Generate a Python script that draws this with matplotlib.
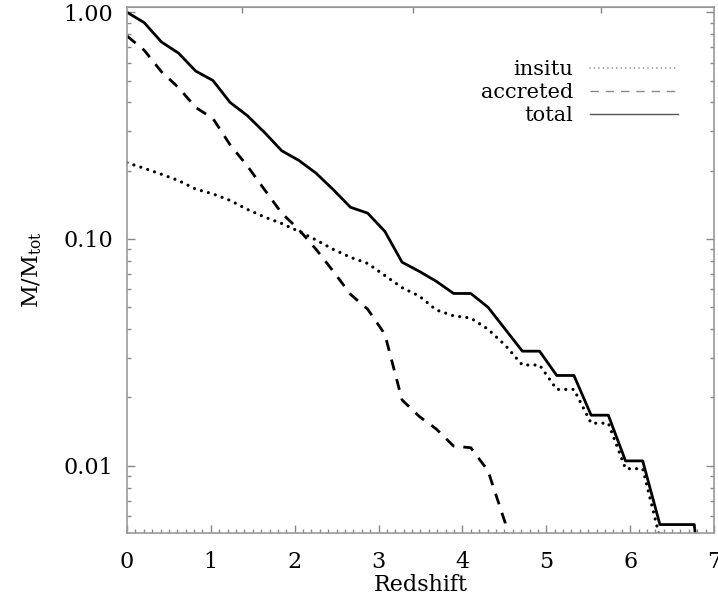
import numpy as np
import matplotlib.pyplot as plt
from matplotlib.lines import Line2D
from matplotlib.ticker import MultipleLocator, LogLocator, NullFormatter, FixedFormatter

plt.rcParams['font.family'] = 'DejaVu Serif'
plt.rcParams['mathtext.fontset'] = 'dejavuserif'
plt.rcParams['lines.scale_dashes'] = False

# Redshift grid and mass fractions
z = [0.0, 0.205, 0.41, 0.615, 0.82, 1.025, 1.23, 1.435, 1.64, 1.845,
     2.05, 2.255, 2.46, 2.665, 2.87, 3.075, 3.28, 3.485, 3.69, 3.895,
     4.10, 4.305, 4.51, 4.715, 4.92, 5.125, 5.33, 5.535, 5.74, 5.945,
     6.15, 6.355, 6.56, 6.765, 6.97]

total = [1.00, 0.90, 0.74, 0.66, 0.55, 0.50, 0.40, 0.35, 0.295, 0.245,
         0.222, 0.195, 0.165, 0.138, 0.13, 0.108, 0.079, 0.072, 0.065, 0.0575,
         0.0575, 0.050, 0.040, 0.032, 0.032, 0.025, 0.025, 0.0167, 0.0167, 0.0105,
         0.0105, 0.0055, 0.0055, 0.0055, 0.001]

accreted = [0.786, 0.68, 0.547, 0.465, 0.38, 0.34, 0.26, 0.21, 0.165, 0.13,
            0.11, 0.09, 0.072, 0.057, 0.049, 0.038, 0.0195, 0.0165, 0.0145, 0.0122,
            0.012, 0.0095, 0.0056, 0.001]

insitu = [0.217, 0.205, 0.193, 0.181, 0.166, 0.158, 0.148, 0.135, 0.125, 0.117,
          0.108, 0.099, 0.09, 0.083, 0.078, 0.069, 0.061, 0.056, 0.0486, 0.0458,
          0.0448, 0.040, 0.034, 0.0278, 0.0278, 0.0217, 0.0217, 0.0154, 0.0154, 0.0097,
          0.0097, 0.0048, 0.001]

top_ticks = [1.37, 3.41, 5.65]

fig = plt.figure(figsize=(7.18, 6.08), dpi=100)
ax = fig.add_axes([0.1769, 0.1234, 0.8175, 0.8651])

dot = (0, (0.01, 5.2))
dash = (0, (8.0, 6.5))

ax.plot(z[:len(insitu)], insitu, color='black', lw=2.3, ls=dot, dash_capstyle='round')
ax.plot(z[:len(accreted)], accreted, color='black', lw=2.0, ls=dash)
ax.plot(z[:len(total)], total, color='black', lw=2.0)

ax.set_yscale('log')
ax.set_xlim(0, 7)
ax.set_ylim(0.00505, 1.055)

ax.set_yticks([0.01, 0.1, 1.0])
ax.yaxis.set_major_formatter(FixedFormatter(['0.01', '0.10', '1.00']))
ax.yaxis.set_minor_locator(LogLocator(base=10, subs=np.arange(2, 10)))
ax.yaxis.set_minor_formatter(NullFormatter())
ax.xaxis.set_major_locator(MultipleLocator(1))
ax.xaxis.set_minor_locator(MultipleLocator(0.1))

ax.tick_params(axis='both', which='major', direction='in', length=6, width=1,
               color='#888888', labelsize=16)
ax.tick_params(axis='x', which='major', pad=13)
ax.tick_params(axis='y', which='major', pad=10)
ax.tick_params(axis='both', which='minor', direction='in', length=3, width=1,
               color='#888888')
ax.tick_params(axis='y', which='both', right=True)

for s in ax.spines.values():
    s.set_color('#999999')
    s.set_linewidth(1.2)

# unlabeled ticks on the top axis
sec = ax.secondary_xaxis('top')
sec.set_xticks(top_ticks)
sec.set_xticklabels([])
sec.tick_params(direction='in', length=4, width=1, color='#888888')
sec.spines['top'].set_color('#999999')

ax.set_xlabel('Redshift', fontsize=16, labelpad=1)
ax.set_ylabel(r'M/M$_{\rm tot}$', fontsize=16, labelpad=14)

handles = [Line2D([], [], color='#888888', lw=1.2, ls=(0, (0.01, 3.2)), dash_capstyle='round'),
           Line2D([], [], color='#888888', lw=1.0, ls=(0, (6, 5))),
           Line2D([], [], color='#555555', lw=1.0)]
ax.legend(handles, ['insitu', 'accreted', 'total'], loc='upper right',
          bbox_to_anchor=(0.97, 0.935), frameon=False, markerfirst=False,
          fontsize=15, handlelength=4.2, handletextpad=0.8, labelspacing=0.2)

fig.savefig('out.png', dpi=100)
